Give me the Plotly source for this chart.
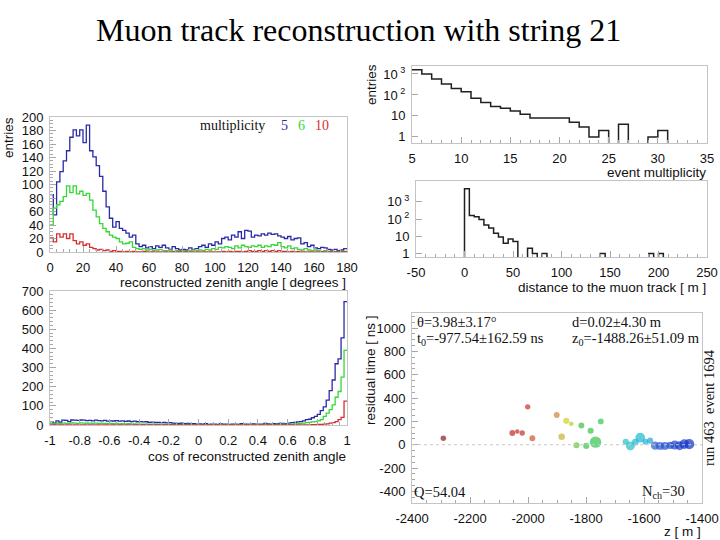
import plotly.graph_objects as go

# ---------------- data ----------------
# zenith angle histogram, 2-degree bins from 0 to 180
zen_lo, zen_w = 0, 2
zen_m5 = [85, 55, 104, 119, 135, 150, 170, 181, 172, 181,
          162, 188, 150, 141, 128, 112, 90, 67, 50, 37,
          45, 35, 32, 28, 22, 25, 12, 8, 10, 6,
          8, 5, 9, 7, 10, 6, 4, 8, 5, 3,
          4, 3, 6, 4, 5, 8, 10, 7, 12, 10,
          15, 12, 20, 22, 18, 25, 22, 30, 20, 32,
          31, 22, 25, 24, 27, 25, 28, 26, 27, 24,
          22, 20, 23, 18, 20, 21, 12, 14, 8, 10,
          6, 5, 7, 6, 4, 3, 4, 2, 3, 5]
zen_m6 = [40, 65, 70, 75, 82, 98, 88, 98, 86, 90,
          84, 87, 77, 62, 52, 42, 35, 30, 25, 22,
          20, 15, 12, 13, 15, 7, 5, 4, 5, 3,
          4, 2, 3, 4, 2, 2, 3, 1, 2, 1,
          2, 1, 2, 3, 2, 3, 2, 4, 3, 5,
          4, 7, 6, 8, 7, 5, 9, 6, 10, 8,
          7, 9, 8, 10, 7, 9, 8, 11, 10, 14,
          8, 6, 9, 5, 6, 4, 3, 5, 3, 2,
          3, 2, 1, 2, 1, 1, 0, 1, 1, 1]
zen_m10 = [21, 15, 27, 22, 27, 20, 27, 17, 12, 15,
           10, 12, 7, 5, 3, 4, 2, 3, 1, 2,
           1, 1, 0, 1, 0, 1, 0, 0, 1, 0,
           0, 0, 0, 0, 0, 0, 0, 0, 0, 0,
           0, 0, 0, 0, 0, 0, 0, 0, 0, 0,
           0, 0, 1, 0, 1, 0, 1, 1, 0, 1,
           2, 1, 1, 2, 1, 2, 1, 2, 1, 2,
           1, 1, 0, 1, 0, 1, 0, 0, 0, 0,
           0, 0, 0, 0, 0, 0, 0, 0, 0, 0]

# cos(zenith) histogram, 0.02 bins from -1 to 1
cos_lo, cos_w = -1.0, 0.02
cos_m5 = [18, 10, 22, 15, 25, 24, 18, 26, 25, 24,
          26, 25, 23, 24, 22, 25, 23, 22, 24, 20,
          22, 21, 23, 20, 22, 19, 21, 18, 20, 17,
          18, 16, 17, 14, 15, 13, 14, 12, 13, 11,
          12, 10, 9, 8, 10, 7, 8, 6, 7, 5,
          6, 4, 7, 3, 5, 4, 3, 6, 4, 5,
          3, 4, 5, 3, 7, 4, 5, 3, 6, 4,
          5, 4, 8, 6, 5, 7, 6, 9, 8, 7,
          10, 12, 14, 16, 18, 22, 28, 30, 38, 45,
          55, 75, 95, 130, 180, 235, 320, 345, 455, 645]
cos_m6 = [8, 5, 9, 7, 10, 9, 8, 11, 10, 9,
          11, 10, 9, 10, 9, 10, 8, 9, 8, 7,
          8, 7, 8, 6, 7, 6, 7, 5, 6, 5,
          5, 4, 5, 4, 4, 3, 4, 3, 3, 3,
          3, 2, 3, 2, 2, 2, 3, 1, 2, 2,
          2, 1, 2, 1, 2, 1, 1, 2, 1, 2,
          1, 2, 1, 2, 2, 1, 2, 1, 2, 2,
          2, 2, 3, 2, 3, 2, 3, 3, 4, 3,
          4, 5, 6, 7, 8, 10, 12, 14, 16, 18,
          22, 28, 45, 62, 80, 105, 145, 175, 250, 390]
cos_m10 = [1, 0, 1, 1, 0, 1, 1, 1, 0, 1,
           1, 1, 0, 1, 1, 0, 1, 0, 1, 0,
           1, 0, 0, 1, 0, 0, 1, 0, 0, 0,
           0, 0, 0, 0, 0, 0, 0, 0, 0, 0,
           0, 0, 0, 0, 0, 0, 0, 0, 0, 0,
           0, 0, 0, 0, 0, 0, 0, 0, 0, 0,
           0, 0, 0, 0, 0, 0, 0, 0, 0, 0,
           0, 0, 0, 0, 0, 0, 0, 0, 0, 1,
           0, 1, 1, 1, 1, 1, 1, 1, 2, 2,
           3, 3, 5, 6, 10, 12, 18, 28, 40, 125]

# event multiplicity, unit bins from 5 to 35
mult_lo, mult_w = 5, 1
mult_counts = [1600, 1000, 580, 330, 205, 142, 69, 44, 28, 23,
               17, 12, 8, 8, 8, 8, 5, 3, 1, 2,
               0, 4, 0, 0, 1, 2, 0, 0, 0, 0]

# distance to the muon track, 5 m bins from -50 to 250
dist_lo, dist_w = -50, 5
dist_counts = [0, 0, 0, 0, 0, 0, 0, 0, 0, 0,
               5700, 160, 135, 95, 45, 30, 15, 9, 4, 7,
               5, 0, 0, 2, 1, 0, 1, 0, 0, 0,
               0, 0, 0, 0, 0, 0, 0, 0, 1, 0,
               0, 0, 0, 0, 0, 0, 0, 0, 1, 0,
               1, 0, 0, 0, 0, 0, 0, 0, 0, 0]

# single event: hit z positions, residual times and amplitudes
hit_z = [-2292, -2054, -2037, -2020, -2001, -1985, -1901, -1884, -1868, -1851,
         -1833, -1816, -1799, -1784, -1767, -1749, -1663, -1647, -1630, -1613,
         -1595, -1579, -1562, -1545, -1528, -1510, -1494, -1477, -1461, -1444]
hit_t = [55, 100, 113, 100, 325, 55, 255, 68, 205, 180,
         -5, 165, -10, 120, 22, 200, 25, -10, 22, 60,
         25, 35, -8, -10, -10, -5, -3, -8, 5, 5]
hit_amp = [1.0, 1.2, 0.6, 1.0, 1.0, 1.2, 1.2, 1.5, 1.3, 0.7,
           1.3, 1.2, 1.3, 1.3, 3.5, 1.2, 1.3, 2.5, 1.5, 2.8,
           1.2, 1.3, 2.2, 2.0, 2.0, 1.8, 2.5, 2.5, 2.8, 3.0]

zen_ticks = list(range(0, 181, 20))
zen_yticks = list(range(0, 201, 20))
cos_ticks = [-1, -0.8, -0.6, -0.4, -0.2, 0, 0.2, 0.4, 0.6, 0.8, 1]
cos_ticklabels = ["-1", "-0.8", "-0.6", "-0.4", "-0.2", "0", "0.2", "0.4", "0.6", "0.8", "1"]
cos_yticks = list(range(0, 701, 100))
mult_ticks = [5, 10, 15, 20, 25, 30, 35]
dist_ticks = [-50, 0, 50, 100, 150, 200, 250]
log_ticks = [1, 10, 100, 1000]
log_ticklabels = ["1", "10", "10<sup> 2</sup>", "10<sup> 3</sup>"]
z_ticks = [-2400, -2200, -2000, -1800, -1600, -1400]
t_ticks = [-400, -200, 0, 200, 400, 600, 800, 1000]

# ---------------- helpers ----------------
W, H = 720, 540
def fx(p):
    return p / W
def fy(p):
    return 1 - p / H

def step(lo, width, vals, floor=None):
    xs = [lo + i * width for i in range(len(vals) + 1)]
    ys = [v if (floor is None or v > 0) else floor for v in vals]
    ys.append(ys[-1])
    return xs, ys

SANS = "Liberation Sans, Arial, Helvetica, sans-serif"
SERIF = "Liberation Serif, Times New Roman, serif"
BLUE = "#2a2aa8"
GREEN = "#35d835"
RED = "#d83030"
FRAME = "#c4c4c4"
TICK = "#a8a8a8"

fig = go.Figure()

def hist(lo, w, vals, color, ax, floor=None, width=1.3):
    xs, ys = step(lo, w, vals, floor)
    fig.add_trace(go.Scatter(x=xs, y=ys, mode="lines", line=dict(color=color, width=width, shape="hv"),
                             xaxis="x" + ax, yaxis="y" + ax, showlegend=False, hoverinfo="skip"))

hist(zen_lo, zen_w, zen_m5, BLUE, "")
hist(zen_lo, zen_w, zen_m6, GREEN, "")
hist(zen_lo, zen_w, zen_m10, RED, "")
hist(cos_lo, cos_w, cos_m5, BLUE, "2")
hist(cos_lo, cos_w, cos_m6, GREEN, "2")
hist(cos_lo, cos_w, cos_m10, RED, "2")
hist(mult_lo, mult_w, mult_counts, "#202020", "3", floor=0.3, width=1.5)
hist(dist_lo, dist_w, dist_counts, "#202020", "4", floor=0.3, width=1.5)

colorscale = [[0, "#8a1a1a"], [0.03, "#c02828"], [0.14, "#c83028"], [0.19, "#d06a30"],
              [0.24, "#c8b030"], [0.28, "#d8d020"], [0.32, "#a8d030"], [0.36, "#38c038"],
              [0.52, "#30c850"], [0.55, "#20c0c8"], [0.72, "#20b0d8"], [0.76, "#2858d0"],
              [1, "#1030c8"]]
fig.add_trace(go.Scatter(x=hit_z, y=hit_t, mode="markers",
                         marker=dict(size=[3 + 2.4 * a for a in hit_amp],
                                     color=list(range(len(hit_z))), colorscale=colorscale,
                                     cmin=0, cmax=len(hit_z) - 1, showscale=False, line=dict(width=0)),
                         xaxis="x5", yaxis="y5", showlegend=False, hoverinfo="skip"))

def axis(domain, rng, tickvals=None, ticktext=None, typ="linear", minor=None, anchor=None, ticklen=6):
    d = dict(domain=domain, range=rng, type=typ, showgrid=False, zeroline=False,
             showline=True, mirror=True, linecolor=FRAME, linewidth=1,
             ticks="inside", ticklen=ticklen, tickcolor=TICK, tickwidth=1,
             tickfont=dict(family=SANS, size=13, color="#111"),
             ticklabelstandoff=3, fixedrange=True, automargin=False)
    if tickvals is not None:
        d["tickmode"] = "array"
        d["tickvals"] = tickvals
        d["ticktext"] = ticktext if ticktext is not None else [str(v) for v in tickvals]
    if minor is not None:
        d["minor"] = dict(ticks="inside", ticklen=3, tickcolor=TICK, **minor)
    if anchor:
        d["anchor"] = anchor
    return d

fig.update_layout(
    width=W, height=H, margin=dict(l=0, r=0, t=0, b=0, pad=0, autoexpand=False),
    paper_bgcolor="white", plot_bgcolor="white", showlegend=False,
    xaxis=axis([fx(50), fx(347)], [0, 180], zen_ticks, minor=dict(dtick=4), anchor="y"),
    yaxis=axis([fy(252), fy(117)], [0, 200], zen_yticks, minor=dict(dtick=5), anchor="x"),
    xaxis2=axis([fx(50), fx(347)], [-1, 1], cos_ticks, cos_ticklabels, minor=dict(dtick=0.05), anchor="y2"),
    yaxis2=axis([fy(425), fy(291)], [0, 700], cos_yticks, minor=dict(dtick=20), anchor="x2"),
    xaxis3=axis([fx(412), fx(707)], [5, 35], mult_ticks, minor=dict(dtick=1), anchor="y3"),
    yaxis3=axis([fy(143), fy(66)], [-0.29, 3.38], log_ticks, log_ticklabels, typ="log", anchor="x3"),
    xaxis4=axis([fx(416), fx(707)], [-50, 250], dist_ticks, minor=dict(dtick=10), anchor="y4"),
    yaxis4=axis([fy(257), fy(181)], [-0.2, 4.2], log_ticks, log_ticklabels, typ="log", anchor="x4"),
    xaxis5=axis([fx(412), fx(702)], [-2400, -1400], z_ticks, [str(v) for v in z_ticks], minor=dict(dtick=50), anchor="y5"),
    yaxis5=axis([fy(503), fy(313)], [-500, 1130], t_ticks, [str(v) for v in t_ticks], minor=dict(dtick=50), anchor="x5"),
)

# zero reference line in event display
fig.add_shape(type="line", xref="x5", yref="y5", x0=-2400, x1=-1400, y0=0, y1=0,
              line=dict(color="#c8c8c8", width=1, dash="dot"))

def note(x, y, text, size=13.5, family=SANS, color="#111", xanchor="center", yanchor="middle", angle=0):
    fig.add_annotation(x=fx(x), y=fy(y), xref="paper", yref="paper", text=text, showarrow=False,
                       font=dict(family=family, size=size, color=color), xanchor=xanchor,
                       yanchor=yanchor, textangle=angle, borderpad=0)

note(358, 30, "Muon track reconstruction with string 21", size=32, family=SERIF, color="#000")
note(8, 138, "entries", angle=-90)
note(347, 282, "reconstructed zenith angle [ degrees ]", xanchor="right")
note(199, 125, "multiplicity", size=14, family=SERIF, xanchor="left")
note(284, 125, "5", size=14, family=SERIF, color=BLUE)
note(301, 125, "6", size=14, family=SERIF, color=GREEN)
note(322, 125, "10", size=14, family=SERIF, color=RED)
note(347, 456, "cos of reconstructed zenith angle", xanchor="right")
note(371, 84, "entries", angle=-90)
note(707, 172, "event multiplicity", xanchor="right")
note(707, 287, "distance to the muon track [ m ]", xanchor="right")
note(370, 370, "residual time [ ns ]", angle=-90)
note(702, 531, "z [ m ]", xanchor="right")
note(416, 322, "θ=3.98±3.17°", size=14.5, family=SERIF, xanchor="left")
note(416, 339, "t<sub>0</sub>=-977.54±162.59 ns", size=14.5, family=SERIF, xanchor="left")
note(571, 322, "d=0.02±4.30 m", size=14.5, family=SERIF, xanchor="left")
note(571, 339, "z<sub>0</sub>=-1488.26±51.09 m", size=14.5, family=SERIF, xanchor="left")
note(413, 492, "Q=54.04", size=14.5, family=SERIF, xanchor="left")
note(686, 492, "N<sub>ch</sub>=30", size=14.5, family=SERIF, xanchor="right")
note(709, 408, "run 463  event 1694", size=14.5, family=SERIF, angle=-90)

fig.write_html("out.html", config={"displayModeBar": False},
               post_script="document.body.style.margin='0';document.body.style.overflow='hidden';")
